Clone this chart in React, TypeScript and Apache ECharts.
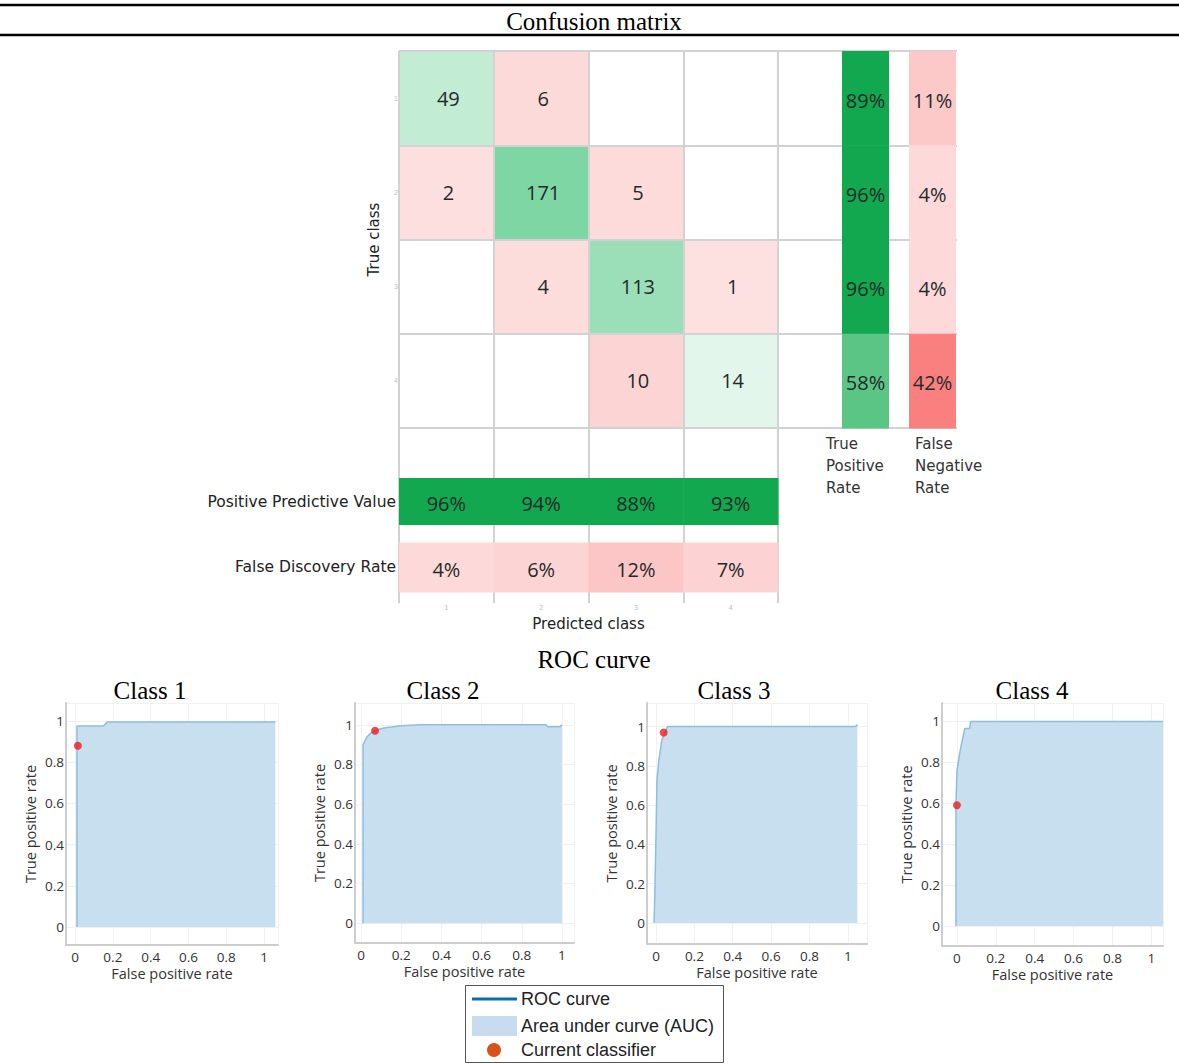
import React, { useEffect, useRef } from "react";
import * as echarts from "echarts";

// ---------- data ----------
const CLASSES = ["1", "2", "3", "4"];

// rows = true class, columns = predicted class
const CONFUSION_ROW_1 = [49, 6, 0, 0];
const CONFUSION_ROW_2 = [2, 171, 5, 0];
const CONFUSION_ROW_3 = [0, 4, 113, 1];
const CONFUSION_ROW_4 = [0, 0, 10, 14];
const CONFUSION = [CONFUSION_ROW_1, CONFUSION_ROW_2, CONFUSION_ROW_3, CONFUSION_ROW_4];

const RATE_COLUMNS = ["True Positive Rate", "False Negative Rate"];
const TRUE_POSITIVE_RATE = [89, 96, 96, 58];
const FALSE_NEGATIVE_RATE = [11, 4, 4, 42];

const SUMMARY_ROWS = ["Positive Predictive Value", "False Discovery Rate"];
const POSITIVE_PREDICTIVE_VALUE = [96, 94, 88, 93];
const FALSE_DISCOVERY_RATE = [4, 6, 12, 7];

const ROC_TITLES = ["Class 1", "Class 2", "Class 3", "Class 4"];
const ROC_CLASS_1 = [[0.01, 0], [0.01, 0.975], [0.15, 0.975], [0.17, 0.995], [1.06, 0.995]];
const ROC_CLASS_2 = [
  [0.01, 0], [0.01, 0.9], [0.03, 0.94], [0.05, 0.96], [0.08, 0.975], [0.12, 0.985],
  [0.2, 0.995], [0.3, 1.0], [0.92, 1.0], [0.93, 0.99], [0.99, 0.99], [1.0, 1.0],
];
const ROC_CLASS_3 = [
  [-0.01, 0], [-0.005, 0.2], [0, 0.45], [0.005, 0.73], [0.015, 0.83], [0.03, 0.93],
  [0.06, 1.0], [1.04, 1.0], [1.05, 1.01],
];
const ROC_CLASS_4 = [
  [-0.005, 0], [-0.005, 0.6], [0, 0.76], [0.015, 0.85], [0.03, 0.92], [0.04, 0.965],
  [0.065, 0.965], [0.07, 1.0], [1.06, 1.0],
];
const ROC_CURVES = [ROC_CLASS_1, ROC_CLASS_2, ROC_CLASS_3, ROC_CLASS_4];
const CURRENT_CLASSIFIER = [[0.015, 0.88], [0.07, 0.97], [0.04, 0.97], [0, 0.59]];
const ROC_TICKS = [0, 0.2, 0.4, 0.6, 0.8, 1];

// ---------- layout ----------
const W = 1179;
const H = 1064;
const GRID_LINE = "#d2d2d2";
const TEXT_DARK = "#1f2a2a";
const LABEL_FONT = "DejaVu Sans";
const CELL_FONT = "Open Sans";

const ROC_LAYOUT = [
  { left: 66, top: 703, width: 212, height: 242, xMin: -0.048, xMax: 1.074, yMin: -0.087, yMax: 1.087, titleX: 150 },
  { left: 355, top: 703, width: 219, height: 240, xMin: -0.03, xMax: 1.06, yMin: -0.1, yMax: 1.11, titleX: 443 },
  { left: 647, top: 703, width: 220, height: 241, xMin: -0.047, xMax: 1.1, yMin: -0.107, yMax: 1.12, titleX: 734 },
  { left: 942, top: 703, width: 221, height: 243, xMin: -0.077, xMax: 1.06, yMin: -0.098, yMax: 1.09, titleX: 1032 },
];

// summary rows: bar height and vertical shift inside each category band
const SUMMARY_HEIGHT = [47, 50];
const SUMMARY_SHIFT = [0, 5];
const RATE_WIDTH = 47;

// ---------- colours ----------
const clamp01 = (t: number) => Math.max(0, Math.min(1, t));
const mix = (a: number[], b: number[], t: number) => {
  const k = clamp01(t);
  const c = a.map((v, i) => Math.round(v + (b[i] - v) * k));
  return `rgb(${c[0]},${c[1]},${c[2]})`;
};
const MAX_DIAG = Math.max(...CONFUSION.map((r, i) => r[i]));
const cellColor = (row: number, col: number, v: number) =>
  row === col
    ? mix([255, 255, 255], [125, 214, 163], Math.pow(v / MAX_DIAG, 0.6))
    : mix([253, 226, 226], [252, 212, 212], v / 10);
const greenRate = (p: number) => mix([140, 217, 171], [18, 168, 79], (p - 40) / 45);
const pinkRate = (p: number) => mix([253, 226, 226], [250, 128, 128], p / 42);

const hiddenAxis = (gridIndex: number, type: "value" | "category", extra: any = {}) => ({
  gridIndex,
  type,
  show: false,
  ...extra,
});

const cellText = (text: string, x: number, y: number) => ({
  type: "text",
  style: {
    text, x, y, align: "center", verticalAlign: "middle",
    fill: TEXT_DARK, fontFamily: CELL_FONT, fontSize: 20,
  },
});

const tickText = (v: number) => String(Math.round(v * 10) / 10);

function buildOption() {
  const matrixData: number[][] = [];
  CONFUSION.forEach((row, r) =>
    row.forEach((v, c) => {
      if (v > 0) matrixData.push([c, r, v]);
    })
  );

  const rateData: number[][] = [];
  CLASSES.forEach((_, r) => {
    rateData.push([0, r, TRUE_POSITIVE_RATE[r]]);
    rateData.push([1, r, FALSE_NEGATIVE_RATE[r]]);
  });

  const summaryData: number[][] = [];
  CLASSES.forEach((_, c) => {
    summaryData.push([c, 0, POSITIVE_PREDICTIVE_VALUE[c]]);
    summaryData.push([c, 1, FALSE_DISCOVERY_RATE[c]]);
  });

  const splitGray = { show: true, lineStyle: { color: GRID_LINE, width: 2 } };
  const rocAxisLine = { show: true, onZero: false, lineStyle: { color: "#cdcdcd", width: 2 } };

  const grids: any[] = [
    { left: 399, top: 51, width: 379, height: 377 }, // 0 matrix
    { left: 399, top: 428, width: 379, height: 175 }, // 1 column guides below
    { left: 399, top: 471, width: 379, height: 122 }, // 2 PPV / FDR
    { left: 778, top: 51, width: 179, height: 377 }, // 3 row guides to the right
    { left: 832, top: 51, width: 134, height: 377 }, // 4 TPR / FNR
    ...ROC_LAYOUT.map((p) => ({ left: p.left, top: p.top, width: p.width, height: p.height })),
  ];

  const xAxes: any[] = [
    {
      gridIndex: 0, type: "category", data: CLASSES, z: 5,
      axisLine: { show: false }, axisTick: { show: false }, axisLabel: { show: false },
      splitLine: splitGray,
    },
    {
      gridIndex: 1, type: "category", data: CLASSES,
      axisLine: { show: false }, axisTick: { show: false },
      axisLabel: { fontSize: 7, color: "#bdbdbd", margin: 1 },
      splitLine: splitGray,
      name: "Predicted class", nameLocation: "middle", nameGap: 13,
      nameTextStyle: { fontFamily: LABEL_FONT, fontSize: 15, color: "#222" },
    },
    hiddenAxis(2, "category", { data: CLASSES }),
    hiddenAxis(3, "value", { min: 0, max: 1 }),
    hiddenAxis(4, "category", { data: RATE_COLUMNS }),
    ...ROC_LAYOUT.map((p, i) => ({
      gridIndex: 5 + i, type: "value", min: p.xMin, max: p.xMax,
      axisLine: rocAxisLine,
      axisTick: { show: false },
      axisLabel: {
        customValues: ROC_TICKS, margin: 5, fontFamily: CELL_FONT, fontSize: 13.5, color: "#333",
        formatter: tickText,
      },
      splitLine: { show: true, lineStyle: { color: "#f1f1f1", width: 1 } },
      name: "False positive rate", nameLocation: "middle", nameGap: 21,
      nameTextStyle: { fontFamily: CELL_FONT, fontSize: 14.5, color: "#333" },
    })),
  ];

  const yAxes: any[] = [
    {
      gridIndex: 0, type: "category", data: CLASSES, inverse: true, z: 5,
      axisLine: { show: false }, axisTick: { show: false },
      axisLabel: { fontSize: 7, color: "#bdbdbd", margin: 1 },
      splitLine: splitGray,
      name: "True class", nameLocation: "middle", nameRotate: 90, nameGap: 18,
      nameTextStyle: { fontFamily: LABEL_FONT, fontSize: 15, color: "#222" },
    },
    hiddenAxis(1, "value", { min: 0, max: 1 }),
    {
      gridIndex: 2, type: "category", data: SUMMARY_ROWS, inverse: true,
      axisLine: { show: false }, axisTick: { show: false }, splitLine: { show: false },
      axisLabel: {
        margin: 3, fontFamily: LABEL_FONT, fontSize: 15.5, color: "#222",
        formatter: (v: string, i: number) => (i === 1 ? `{low|${v}}` : v),
        rich: { low: { padding: [9, 0, 0, 0], fontFamily: LABEL_FONT, fontSize: 15.5, color: "#222" } },
      },
    },
    {
      gridIndex: 3, type: "category", data: CLASSES, inverse: true,
      axisLine: { show: false }, axisTick: { show: false }, axisLabel: { show: false },
      splitLine: splitGray,
    },
    hiddenAxis(4, "category", { data: CLASSES, inverse: true }),
    ...ROC_LAYOUT.map((p, i) => ({
      gridIndex: 5 + i, type: "value", min: p.yMin, max: p.yMax,
      axisLine: rocAxisLine,
      axisTick: { show: false },
      axisLabel: {
        customValues: ROC_TICKS, margin: 2, fontFamily: CELL_FONT, fontSize: 13.5, color: "#333",
        formatter: tickText,
      },
      splitLine: { show: true, lineStyle: { color: "#f1f1f1", width: 1 } },
      name: "True positive rate", nameLocation: "middle", nameRotate: 90, nameGap: 28,
      nameTextStyle: { fontFamily: CELL_FONT, fontSize: 14.5, color: "#333" },
    })),
  ];

  const series: any[] = [
    {
      // confusion counts, one filled cell per non-zero count
      type: "custom", xAxisIndex: 0, yAxisIndex: 0, data: matrixData, silent: true, z: 1,
      renderItem: (_: any, api: any) => {
        const col = api.value(0);
        const row = api.value(1);
        const v = api.value(2);
        const [cx, cy] = api.coord([col, row]);
        const [bw, bh] = api.size([1, 1]);
        return {
          type: "group",
          children: [
            { type: "rect", shape: { x: cx - bw / 2, y: cy - bh / 2, width: bw, height: bh }, style: { fill: cellColor(row, col, v) } },
            cellText(String(v), cx + 2, cy),
          ],
        };
      },
    },
    {
      type: "custom", xAxisIndex: 4, yAxisIndex: 4, data: rateData, silent: true,
      renderItem: (_: any, api: any) => {
        const col = api.value(0);
        const pct = api.value(2);
        const [cx, cy] = api.coord([col, api.value(1)]);
        const [, bh] = api.size([1, 1]);
        const fill = col === 0 ? greenRate(pct) : pinkRate(pct);
        return {
          type: "group",
          children: [
            { type: "rect", shape: { x: cx - RATE_WIDTH / 2, y: cy - bh / 2, width: RATE_WIDTH, height: bh + 0.5 }, style: { fill } },
            cellText(`${pct}%`, cx, cy + 2),
          ],
        };
      },
    },
    {
      type: "custom", xAxisIndex: 2, yAxisIndex: 2, data: summaryData, silent: true,
      renderItem: (_: any, api: any) => {
        const row = api.value(1);
        const pct = api.value(2);
        const [cx, cy] = api.coord([api.value(0), row]);
        const [bw] = api.size([1, 1]);
        const h = SUMMARY_HEIGHT[row];
        const y0 = cy + SUMMARY_SHIFT[row];
        const fill = row === 0 ? greenRate(pct) : pinkRate(pct);
        return {
          type: "group",
          children: [
            { type: "rect", shape: { x: cx - bw / 2, y: y0 - h / 2, width: bw + 0.5, height: h }, style: { fill } },
            cellText(`${pct}%`, cx, y0 + 2),
          ],
        };
      },
    },
    ...ROC_CURVES.map((curve, i) => ({
      type: "line", xAxisIndex: 5 + i, yAxisIndex: 5 + i, data: curve, silent: true,
      showSymbol: false, symbol: "none",
      lineStyle: { color: "#8dbde2", width: 1.5 },
      areaStyle: { color: "#c8dff0", opacity: 1, origin: "auto" },
    })),
    ...CURRENT_CLASSIFIER.map((pt, i) => ({
      type: "scatter", xAxisIndex: 5 + i, yAxisIndex: 5 + i, data: [pt], silent: true,
      symbolSize: 8, itemStyle: { color: "#ee1d1d" }, z: 4,
    })),
  ];

  const serif = "Liberation Serif";
  const titleText = (text: string, x: number, y: number) => ({
    type: "text", x, y,
    style: { text, align: "center", verticalAlign: "middle", fontFamily: serif, fontSize: 25, fill: "#000" },
  });
  const legendFont = { fontFamily: "Liberation Sans", fontSize: 18, fill: "#222" };

  const graphic: any[] = [
    { type: "line", shape: { x1: 0, y1: 5, x2: W, y2: 5 }, style: { stroke: "#000", lineWidth: 2.5 } },
    { type: "line", shape: { x1: 0, y1: 35, x2: W, y2: 35 }, style: { stroke: "#000", lineWidth: 2.5 } },
    titleText("Confusion matrix", 594, 21),
    titleText("ROC curve", 594, 659),
    ...ROC_LAYOUT.map((p, i) => titleText(ROC_TITLES[i], p.titleX, 690)),
    {
      type: "text", x: 826, y: 433,
      style: { text: "True\nPositive\nRate", lineHeight: 22, fontFamily: LABEL_FONT, fontSize: 15, fill: "#333", verticalAlign: "top" },
    },
    {
      type: "text", x: 915, y: 433,
      style: { text: "False\nNegative\nRate", lineHeight: 22, fontFamily: LABEL_FONT, fontSize: 15, fill: "#333", verticalAlign: "top" },
    },
    // legend for the ROC panels
    { type: "rect", shape: { x: 465.5, y: 985.5, width: 258, height: 77 }, style: { fill: "#fff", stroke: "#555", lineWidth: 1 } },
    { type: "line", shape: { x1: 472, y1: 999, x2: 517, y2: 999 }, style: { stroke: "#0b6cb5", lineWidth: 3 } },
    { type: "text", x: 521, y: 999, style: { text: "ROC curve", verticalAlign: "middle", ...legendFont } },
    { type: "rect", shape: { x: 472, y: 1016, width: 45, height: 20 }, style: { fill: "#c8dcef" } },
    { type: "text", x: 521, y: 1026, style: { text: "Area under curve (AUC)", verticalAlign: "middle", ...legendFont } },
    { type: "circle", shape: { cx: 494, cy: 1050, r: 7 }, style: { fill: "#d95319" } },
    { type: "text", x: 521, y: 1050, style: { text: "Current classifier", verticalAlign: "middle", ...legendFont } },
  ];

  return {
    animation: false,
    backgroundColor: "#ffffff",
    grid: grids,
    xAxis: xAxes,
    yAxis: yAxes,
    series,
    graphic,
  };
}

export default function App() {
  const ref = useRef<HTMLDivElement>(null);
  useEffect(() => {
    if (!ref.current) return;
    const chart = echarts.init(ref.current, undefined, { renderer: "svg", width: W, height: H });
    chart.setOption(buildOption());
    return () => chart.dispose();
  }, []);
  return (
    <div
      ref={ref}
      style={{ position: "fixed", left: 0, top: 0, width: W, height: H, background: "#fff" }}
    />
  );
}
